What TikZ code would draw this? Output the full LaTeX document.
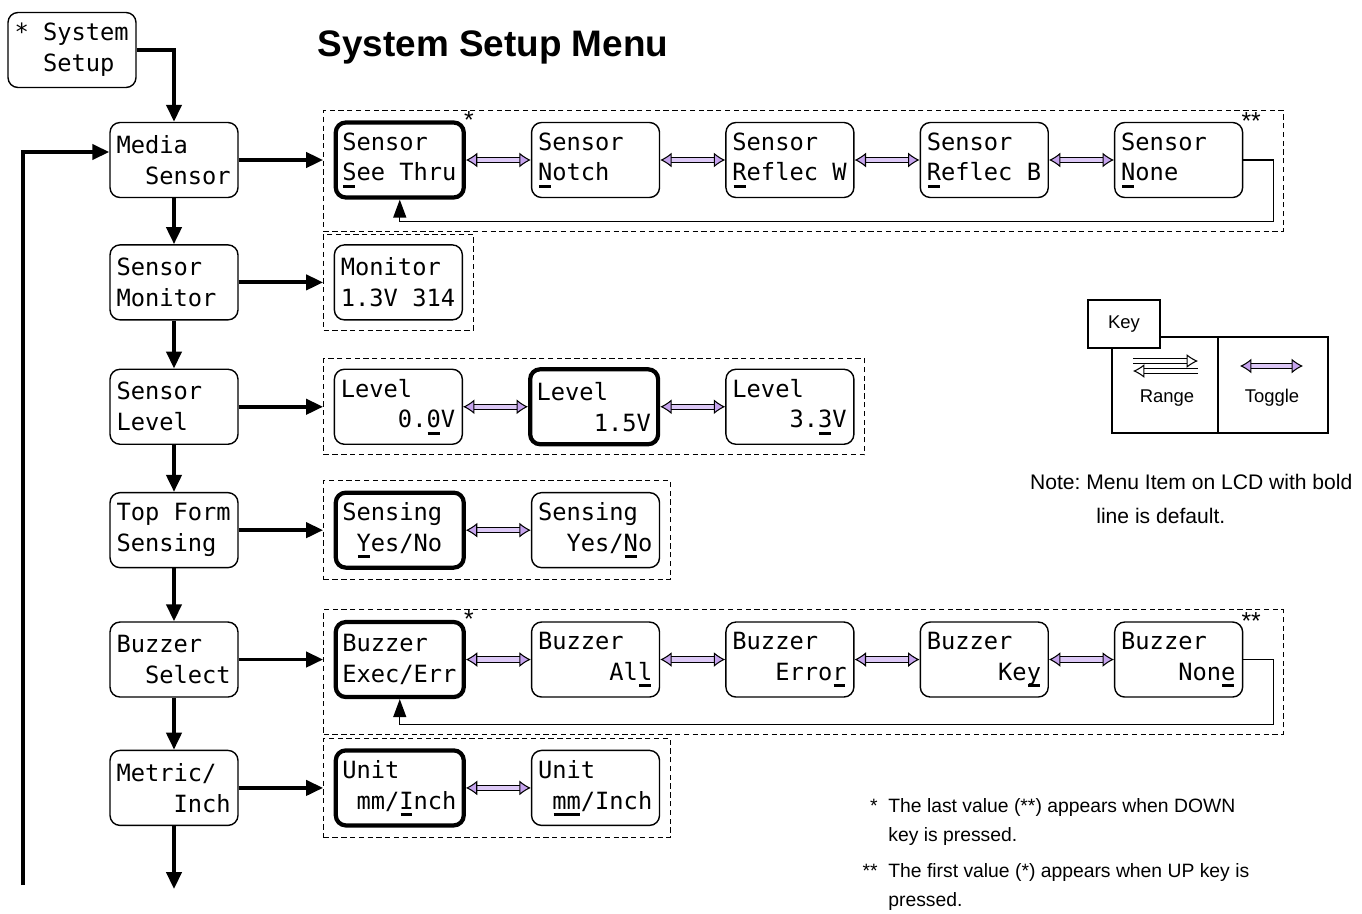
\documentclass[tikz,border=0pt]{standalone}
\usepackage{fontspec}
\setmainfont{Liberation Sans}
\newfontfamily\lcdfont{DejaVu Sans Mono}
\usepackage{tikz}
\usetikzlibrary{arrows.meta, positioning, fit, calc}
\definecolor{toggleFill}{HTML}{DCC8F6}
\definecolor{toggleTip}{HTML}{C6A4EE}
\newsavebox\lcdubox
\newcommand\lcdu[1]{\leavevmode\sbox\lcdubox{#1}\rlap{\kern0.05em\rule[-0.28em]{\dimexpr\wd\lcdubox-0.1em\relax}{0.12em}}\usebox\lcdubox}
\newcommand\lsp{\leavevmode\phantom{x}}

\begin{document}
\begin{tikzpicture}[
    x=0.02cm, y=-0.02cm,
    lcd/.style={
      rectangle, rounded corners=0.2cm, draw, line width=0.8pt,
      text width=2.3cm, inner xsep=0.13cm, minimum height=1.5cm, align=left,
      font={\lcdfont\fontsize{13.5pt}{17.6pt}\selectfont}
    },
    lcddef/.style={lcd, line width=2.4pt},
    groupframe/.style={draw, dash pattern=on 3pt off 2pt, line width=0.6pt, inner sep=0.2cm},
    flow/.style={-{Triangle[length=0.34cm, width=0.3cm]}, line width=2.2pt},
    ret/.style={-{Triangle[length=0.36cm, width=0.26cm]}, line width=0.7pt},
    togglearr/.style={{Latex[fill=toggleTip, length=6.5pt, width=8.5pt]}-{Latex[fill=toggleTip, length=6.5pt, width=8.5pt]},
      double=toggleFill, double distance=2.4pt, line width=0.6pt},
    rangearr/.style={-{Latex[fill=white, length=6.5pt, width=8pt]}, double=white, double distance=2.2pt, line width=0.6pt},
    starmark/.style={inner sep=0.5pt, font=\fontsize{14pt}{14pt}\selectfont},
    keytext/.style={font=\fontsize{10.5pt}{12pt}\selectfont},
    note/.style={align=left, inner sep=0pt, font=\fontsize{11pt}{16pt}\selectfont},
  ]
  \useasboundingbox (0,0) rectangle (1362,913);

  %% title
  \node[font=\bfseries\fontsize{21pt}{25pt}\selectfont] (title) at (493,47) {System Setup Menu};

  %% main column
  \node[lcd] (sys) at (72,50) {*\lsp System\\\lsp\lsp Setup};
  \node[lcd] (media) at (174,160) {Media\\\lsp\lsp Sensor};
  \node[lcd, below=0.92cm of media]   (monitor) {Sensor\\Monitor};
  \node[lcd, below=0.96cm of monitor] (level)   {Sensor\\Level};
  \node[lcd, below=0.94cm of level]   (topform) {Top\lsp Form\\Sensing};
  \node[lcd, below=1.06cm of topform] (buzzer)  {Buzzer\\\lsp\lsp Select};
  \node[lcd, below=1.04cm of buzzer]  (metric)  {Metric/\\\lsp\lsp\lsp\lsp Inch};

  %% media sensor
  \node[lcddef, right=1.9cm of media] (s1) {Sensor\\\lcdu{S}ee\lsp Thru};
  \node[lcd, right=1.3cm of s1] (s2) {Sensor\\\lcdu{N}otch};
  \node[lcd, right=1.3cm of s2] (s3) {Sensor\\\lcdu{R}eflec\lsp W};
  \node[lcd, right=1.3cm of s3] (s4) {Sensor\\\lcdu{R}eflec\lsp B};
  \node[lcd, right=1.3cm of s4] (s5) {Sensor\\\lcdu{N}one};

  %% sensor monitor
  \node[lcd, right=1.9cm of monitor] (mon1) {Monitor\\1.3V\lsp 314};

  %% sensor level
  \node[lcd, right=1.9cm of level] (lev1) {Level\\\lsp\lsp\lsp\lsp 0.\lcdu{0}V};
  \node[lcddef, right=1.3cm of lev1] (lev2) {Level\\\lsp\lsp\lsp\lsp 1.5V};
  \node[lcd, right=1.3cm of lev2] (lev3) {Level\\\lsp\lsp\lsp\lsp 3.\lcdu{3}V};

  %% top form sensing
  \node[lcddef, right=1.9cm of topform] (tf1) {Sensing\\\lsp\lcdu{Y}es/No};
  \node[lcd, right=1.3cm of tf1] (tf2) {Sensing\\\lsp\lsp Yes/\lcdu{N}o};

  %% buzzer select
  \node[lcddef, right=1.9cm of buzzer] (b1) {Buzzer\\Exec/Err};
  \node[lcd, right=1.3cm of b1] (b2) {Buzzer\\\lsp\lsp\lsp\lsp\lsp Al\lcdu{l}};
  \node[lcd, right=1.3cm of b2] (b3) {Buzzer\\\lsp\lsp\lsp Erro\lcdu{r}};
  \node[lcd, right=1.3cm of b3] (b4) {Buzzer\\\lsp\lsp\lsp\lsp\lsp Ke\lcdu{y}};
  \node[lcd, right=1.3cm of b4] (b5) {Buzzer\\\lsp\lsp\lsp\lsp Non\lcdu{e}};

  %% metric / inch
  \node[lcddef, right=1.9cm of metric] (u1) {Unit\\\lsp mm/\lcdu{I}nch};
  \node[lcd, right=1.3cm of u1] (u2) {Unit\\\lsp\lcdu{mm}/Inch};

  %% first / last marks
  \node[starmark, anchor=base west] at ([xshift=-0.06cm, yshift=-0.16cm]s1.north east) {*};
  \node[starmark, anchor=base west] at ([xshift=-0.06cm, yshift=-0.16cm]s5.north east) {**};
  \node[starmark, anchor=base west] at ([xshift=-0.06cm, yshift=-0.16cm]b1.north east) {*};
  \node[starmark, anchor=base west] at ([xshift=-0.06cm, yshift=-0.16cm]b5.north east) {**};

  %% toggles
  \foreach \a/\b in {s1/s2, s2/s3, s3/s4, s4/s5, lev1/lev2, lev2/lev3, tf1/tf2,
                     b1/b2, b2/b3, b3/b4, b4/b5, u1/u2}
    \draw[togglearr] (\a) -- (\b);

  %% wrap around
  \draw[ret] (s5.east) -- ++(0.6cm,0) coordinate (s5r) |- ([yshift=-0.44cm]s1.south) coordinate (s1b) -- (s1);
  \draw[ret] (b5.east) -- ++(0.6cm,0) coordinate (b5r) |- ([yshift=-0.5cm]b1.south) coordinate (b1b) -- (b1);

  %% groups
  \node[groupframe, fit=(s1)(s5)(s5r)(s1b)] (fsens) {};
  \node[groupframe, fit=(mon1)] (fmon) {};
  \node[groupframe, fit=(lev1)(lev3)] (flev) {};
  \node[groupframe, fit=(tf1)(tf2)] (ftf) {};
  \node[groupframe, fit=(b1)(b5)(b5r)(b1b)] (fbuz) {};
  \node[groupframe, fit=(u1)(u2)] (funit) {};

  %% flow arrows
  \draw[flow] (sys.east) -| (media);
  \draw[flow] (media) -- (monitor);
  \draw[flow] (monitor) -- (level);
  \draw[flow] (level) -- (topform);
  \draw[flow] (topform) -- (buzzer);
  \draw[flow] (buzzer) -- (metric);
  \coordinate (metricend) at ([yshift=-1.26cm]metric.south);
  \draw[flow] (metric) -- (metricend);
  \coordinate (loopbot) at (23,885);
  \draw[flow] (loopbot) |- ([yshift=0.16cm]media.west);

  \draw[flow] (media) -- (media -| fsens.west);
  \draw[flow] (monitor) -- (monitor -| fmon.west);
  \draw[flow] (level) -- (level -| flev.west);
  \draw[flow] (topform) -- (topform -| ftf.west);
  \draw[flow] (buzzer) -- (buzzer -| fbuz.west);
  \draw[flow] (metric) -- (metric -| funit.west);

  %% key
  \node[draw, line width=0.7pt, outer sep=0pt, minimum width=2.12cm, minimum height=1.92cm] (rangecell) at (1165,385) {};
  \node[draw, line width=0.7pt, outer sep=0pt, minimum width=2.2cm, minimum height=1.92cm, right=0pt of rangecell] (togglecell) {};
  \node[draw, line width=0.7pt, fill=white, minimum width=1.44cm, minimum height=0.96cm, keytext] (keylab) at (1124,324) {Key};
  \coordinate (rgA) at (1133,361);
  \coordinate (rgB) at (1198,361);
  \coordinate (rgC) at (1198,371);
  \coordinate (rgD) at (1133,371);
  \draw[rangearr] (rgA) -- (rgB);
  \draw[rangearr] (rgC) -- (rgD);
  \coordinate (tgA) at (1240,366);
  \coordinate (tgB) at (1303,366);
  \draw[togglearr] (tgA) -- (tgB);
  \node[keytext] (rangetxt) at (1167,398) {Range};
  \node[keytext] (toggletxt) at (1272,398) {Toggle};

  %% notes
  \node[note, font=\fontsize{12pt}{19pt}\selectfont, anchor=base west] (note) at (1086,523)
    {\llap{Note:\ }Menu Item on LCD with bold\\\hspace*{0.2cm}line is default.};
  \node[note, anchor=base west] (fn1) at (888,841) {\llap{*\ \ }The last value (**) appears when DOWN\\key is pressed.};
  \node[note, anchor=base west] (fn2) at (888,906) {\llap{**\ \ }The first value (*) appears when UP key is\\pressed.};

\end{tikzpicture}
\end{document}
